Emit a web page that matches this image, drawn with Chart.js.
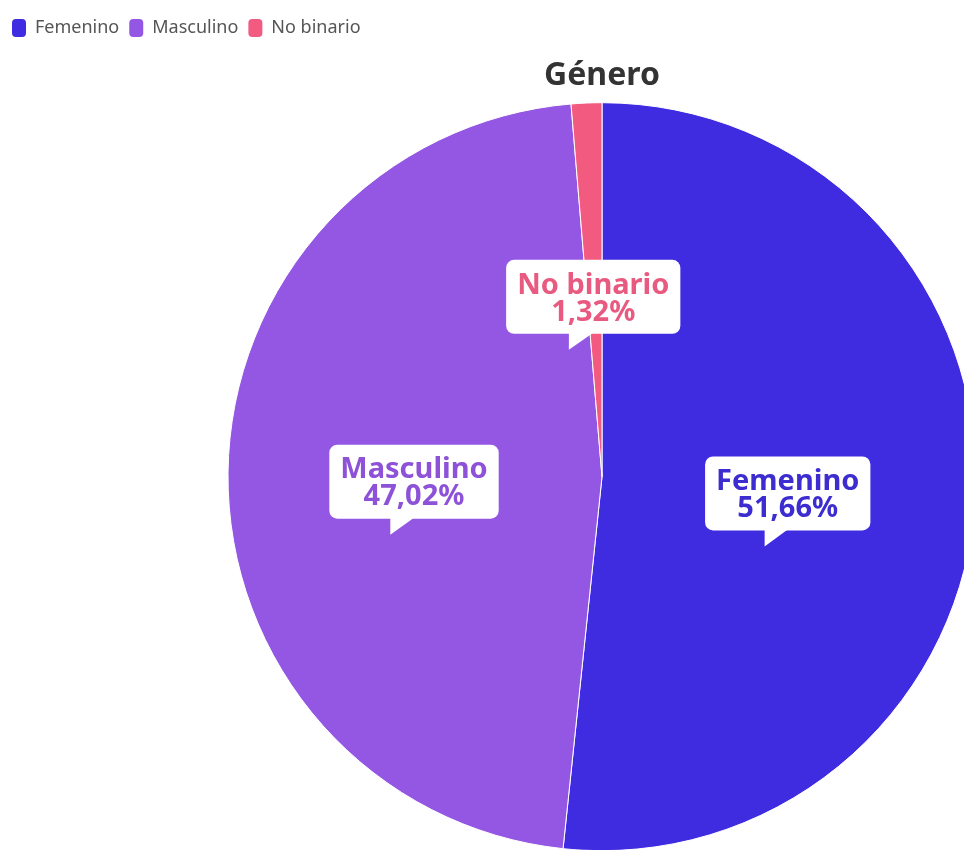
<!DOCTYPE html>
<html><head><meta charset="utf-8">
<script src="https://cdn.jsdelivr.net/npm/chart.js@4"></script>
<style>
html,body{margin:0;padding:0;background:#fff;overflow:hidden;width:964px;height:850px}
#wrap{position:absolute;left:0;top:0;width:964px;height:850px;overflow:hidden}
canvas{position:absolute;left:0;top:0}
</style></head>
<body><div id="wrap"><canvas id="c" width="1204" height="852"></canvas></div>
<script>
const categories = ['Femenino', 'Masculino', 'No binario'];
const values = [51.66, 47.02, 1.32];
const sliceColors = ['#3f2be0', '#9457e3', '#f25a80'];
const labelColors = ['#3d2dd0', '#8d52d8', '#e95a80'];
const chartTitle = 'Género';

const sliceLabels = {
  id: 'sliceLabels',
  afterDatasetsDraw(chart) {
    const ctx = chart.ctx;
    const meta = chart.getDatasetMeta(0);
    meta.data.forEach((arc, i) => {
      const p = arc.tooltipPosition();
      const lines = [categories[i], values[i].toFixed(2).replace('.', ',') + '%'];
      ctx.save();
      ctx.font = 'bold 29px "Noto Sans"';
      const w = Math.max(...lines.map(l => ctx.measureText(l).width));
      const lh = 27;
      const cx = p.x - 1, cy = p.y + 9;
      const bw = w + 22, bh = lh * 2 + 20;
      const x0 = cx - bw / 2, y0 = cy - bh / 2 - 2;
      ctx.fillStyle = '#fff';
      ctx.beginPath();
      ctx.roundRect(x0, y0, bw, bh, 8);
      ctx.fill();
      // small speech-bubble tail
      ctx.beginPath();
      ctx.moveTo(x0 + bw * 0.36, y0 + bh - 1);
      ctx.lineTo(x0 + bw * 0.36, y0 + bh + 16);
      ctx.lineTo(x0 + bw * 0.50, y0 + bh - 1);
      ctx.closePath();
      ctx.fill();
      ctx.fillStyle = labelColors[i];
      ctx.textAlign = 'center';
      ctx.textBaseline = 'middle';
      ctx.fillText(lines[0], cx, cy - lh / 2);
      ctx.fillText(lines[1], cx, cy + lh / 2);
      ctx.restore();
    });
  }
};

new Chart(document.getElementById('c'), {
  type: 'pie',
  data: {
    labels: categories,
    datasets: [{
      data: values,
      backgroundColor: sliceColors,
      borderColor: '#fff',
      borderWidth: 1,
      radius: 374
    }]
  },
  options: {
    responsive: false,
    animation: false,
    devicePixelRatio: 1,
    layout: { padding: { top: 9, left: 2, right: 2, bottom: 0 } },
    plugins: {
      legend: {
        position: 'top',
        align: 'start',
        weight: 3000,
        labels: {
          boxWidth: 14, boxHeight: 18, useBorderRadius: true, borderRadius: 4,
          color: '#555', padding: 10,
          font: { size: 18, family: '"Noto Sans"' },
          generateLabels(chart) {
            const items = Chart.overrides.pie.plugins.legend.labels.generateLabels(chart);
            items.forEach(it => { it.lineWidth = 0; });
            return items;
          }
        }
      },
      title: {
        display: true,
        text: chartTitle,
        color: '#333',
        font: { size: 32, weight: 'bold', family: '"Noto Sans"' },
        padding: { top: 10, bottom: 6 }
      },
      tooltip: { enabled: false }
    }
  },
  plugins: [sliceLabels]
});
</script>
</body></html>
